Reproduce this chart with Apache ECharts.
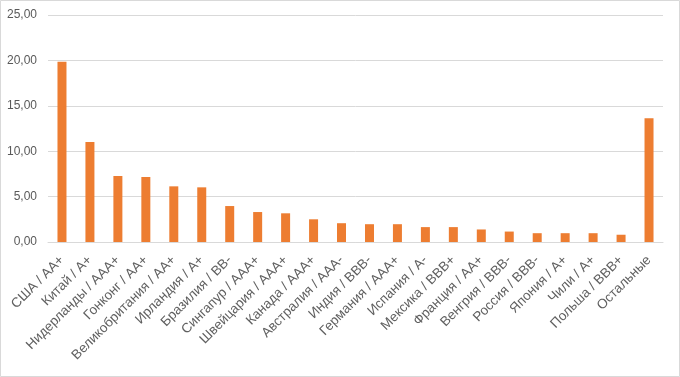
<!DOCTYPE html>
<html><head><meta charset="utf-8">
<script src="https://cdn.jsdelivr.net/npm/echarts@6/dist/echarts.min.js"></script>
<style>html,body{margin:0;padding:0;background:#fff}#c{width:680px;height:377px}</style>
</head><body><div id="c"></div>
<script>
const categories = ["США / AA+","Китай / A+","Нидерланды / AAA+","Гонконг / AA+","Великобритания / AA+","Ирландия / A+","Бразилия / BB-","Сингапур / AAA+","Швейцария / AAA+","Канада / AAA+","Австралия / AAA-","Индия / BBB-","Германия / AAA+","Испания / A-","Мексика / BBB+","Франция / AA+","Венгрия / BBB-","Россия / BBB-","Япония / A+","Чили / A+","Польша / BBB+","Остальные"];
const values = [19.86,11.0,7.27,7.16,6.13,6.02,3.96,3.30,3.16,2.50,2.07,1.96,1.96,1.64,1.64,1.38,1.15,0.97,0.97,0.97,0.80,13.62];
const yTicks = {min:0,max:25,interval:5};

const chart = echarts.init(document.getElementById('c'));
chart.setOption({
  animation:false,
  backgroundColor:'#fff',
  graphic:[{type:'rect',shape:{x:0.5,y:0.5,width:679,height:376},style:{fill:'none',stroke:'#d9d9d9',lineWidth:1},silent:true}],
  grid:{left:48,right:17,top:15,bottom:135},
  xAxis:{type:'category',data:categories,
    axisLine:{show:true,lineStyle:{color:'#d9d9d9'}},axisTick:{show:false},
    axisLabel:{rotate:45,interval:0,color:'#606060',fontSize:13.5,fontFamily:'Liberation Sans',margin:16}},
  yAxis:{type:'value',min:yTicks.min,max:yTicks.max,interval:yTicks.interval,
    axisLine:{show:false},axisTick:{show:false},
    splitLine:{lineStyle:{color:'#d9d9d9'}},
    axisLabel:{color:'#595959',fontSize:12,fontFamily:'Liberation Sans',margin:11,
      formatter:v=>v.toFixed(2).replace('.',',')}},
  series:[{type:'bar',data:values,barWidth:9,itemStyle:{color:'#ed7d31'}}]
});
</script></body></html>
